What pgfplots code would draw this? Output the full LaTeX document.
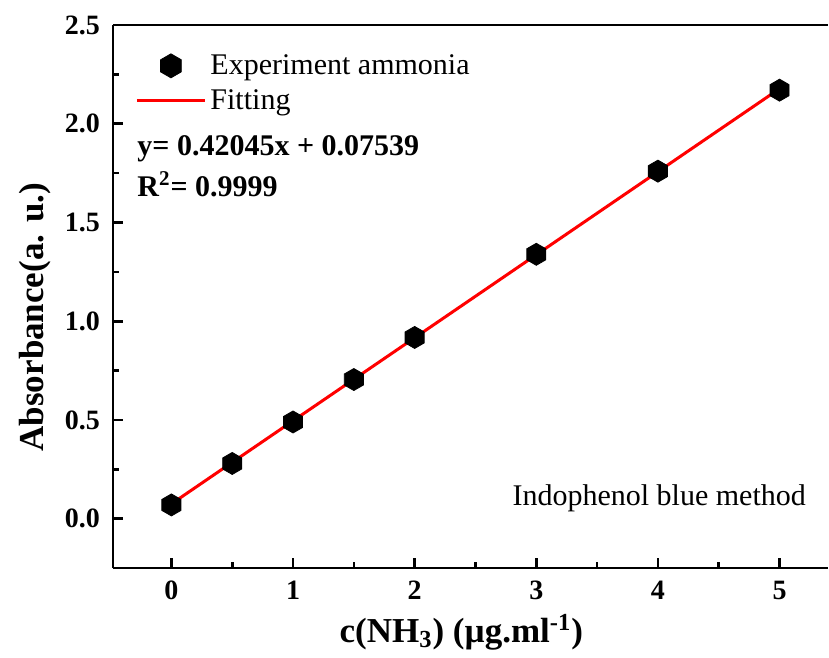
\documentclass[border=0pt]{standalone}
\usepackage{fontspec}
\setmainfont{Liberation Serif}
\usepackage{pgfplots}
\pgfplotsset{compat=1.18}
\usetikzlibrary{calc}
\pgfdeclareplotmark{hexagon*}{%
  \pgfpathmoveto{\pgfpointpolar{90}{\pgfplotmarksize}}%
  \pgfpathlineto{\pgfpointpolar{150}{\pgfplotmarksize}}%
  \pgfpathlineto{\pgfpointpolar{210}{\pgfplotmarksize}}%
  \pgfpathlineto{\pgfpointpolar{270}{\pgfplotmarksize}}%
  \pgfpathlineto{\pgfpointpolar{330}{\pgfplotmarksize}}%
  \pgfpathlineto{\pgfpointpolar{30}{\pgfplotmarksize}}%
  \pgfpathclose\pgfusepathqfillstroke}
\pgfplotsset{
  legmark/.style={legend image code/.code={\path[draw=none,fill=none] (0pt,0pt) rectangle (34pt,0.1pt);\draw[##1, mark size=6pt] plot[only marks] coordinates {(17pt,0pt)};}},
  legline/.style={legend image code/.code={\draw[##1] (0pt,0pt) -- (34pt,0pt);}},
}
\begin{document}
\begin{tikzpicture}
\begin{axis}[name=ax, scale only axis, width=357.5pt, height=271.5pt,
  xmin=-0.48, xmax=5.4, ymin=-0.25, ymax=2.5,
  axis lines*=left, axis line style={-, line width=1.3pt},
  xtick={0,1,2,3,4,5}, ytick={0,0.5,1,1.5,2,2.5},
  minor x tick num=1, minor y tick num=1,
  tick align=inside, major tick length=5pt, minor tick length=3pt,
  every tick/.style={black, line width=1.3pt},
  tick label style={font=\fontsize{14}{16}\selectfont\bfseries},
  /pgf/number format/assume math mode=true,
  xticklabel style={yshift=-3pt},
  yticklabel style={xshift=-3pt, /pgf/number format/fixed, /pgf/number format/fixed zerofill, /pgf/number format/precision=1},
  xlabel={c(NH\textsubscript{3}) (µg.ml\textsuperscript{-1})},
  ylabel={Absorbance(a. u.)},
  label style={font=\fontsize{17.5}{20}\selectfont\bfseries},
  xlabel style={at={(ticklabel cs:0.487)}},
  ylabel style={at={(ticklabel cs:0.462)}, xshift=0pt},
  legend style={draw=none, fill=none, at={(rel axis cs:0,1)}, anchor=north west,
    xshift=8pt, yshift=-10.5pt, font=\fontsize{15}{18}\selectfont, row sep=2pt},
  legend cell align=left,
  clip=false,
]
\addplot[only marks, mark=hexagon*, mark size=5.5pt, black, legmark]
  coordinates {(0,0.07) (0.5,0.28) (1,0.49) (1.5,0.705) (2,0.918) (3,1.339) (4,1.76) (5,2.17)};
\addlegendentry{Experiment ammonia}
\addplot[red, line width=1.5pt, legline]
  coordinates {(0,0.07539) (5,2.17764)};
\addlegendentry{Fitting}
\node[anchor=base west, inner sep=0pt, font=\fontsize{15}{18}\selectfont\bfseries]
  at ($(rel axis cs:0,1)+(12pt,-65pt)$) {y= 0.42045x + 0.07539};
\node[anchor=base west, inner sep=0pt, font=\fontsize{15}{18}\selectfont\bfseries]
  at ($(rel axis cs:0,1)+(12pt,-85.5pt)$) {R\textsuperscript{2}= 0.9999};
\node[anchor=base west, inner sep=0pt, font=\fontsize{15}{18}\selectfont]
  at ($(rel axis cs:0,0)+(199.5pt,31.5pt)$) {Indophenol blue method};
\end{axis}
\draw[line width=1.3pt] (ax.north west) -- (ax.north east);
\pgfresetboundingbox
\path ($(ax.south west)+(-56.5pt,-44.5pt)$) rectangle ($(ax.north east)+(0.4pt,12.5pt)$);
\end{tikzpicture}
\end{document}
